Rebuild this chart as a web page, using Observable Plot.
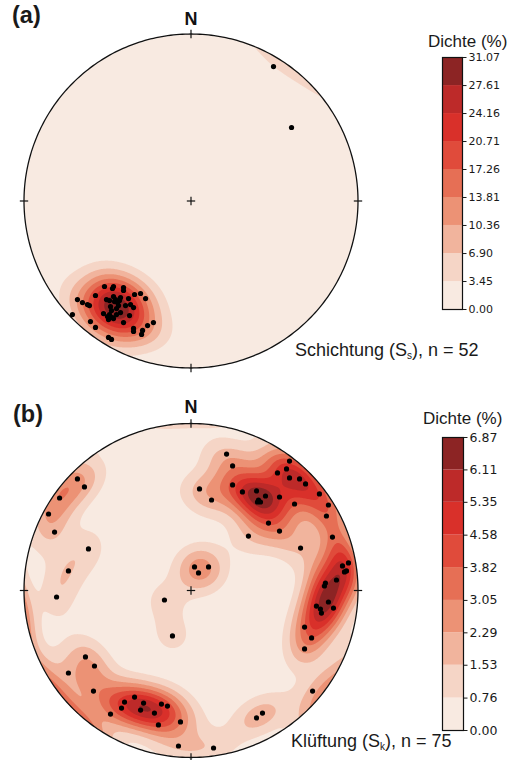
<!DOCTYPE html>
<html><head><meta charset="utf-8">
<script src="https://cdn.jsdelivr.net/npm/d3@7"></script>
<script src="https://cdn.jsdelivr.net/npm/@observablehq/plot@0.6"></script>
<style>
body{margin:0;background:#fff;}
#page{position:relative;width:525px;height:760px;overflow:hidden;font-family:"Liberation Sans",Arial,sans-serif;color:#1a1a1a;}
.abs{position:absolute;white-space:nowrap;line-height:1;}
.abs svg{display:block;}
sub{font-size:10px;vertical-align:-3px;line-height:0;}
</style></head><body><div id="page"></div>
<script>
// Colour bands (bottom -> top) of the "Dichte (%)" colour bar
const bandColors = ["#f8eae1", "#f5d5c6", "#f1b49d", "#ec9275", "#e66f55", "#e04b3b", "#d9302a", "#bd2a29", "#8c2424"];

// (a) Schichtung – tick values and labels of the colour bar
const ticksA = [0, 3.45, 6.90, 10.36, 13.81, 17.26, 20.71, 24.16, 27.61, 31.07];
const labelsA = ["0.00", "3.45", "6.90", "10.36", "13.81", "17.26", "20.71", "24.16", "27.61", "31.07"];
// (b) Klüftung
const ticksB = [0, 0.76, 1.53, 2.29, 3.05, 3.82, 4.58, 5.35, 6.11, 6.87];
const labelsB = ["0.00", "0.76", "1.53", "2.29", "3.05", "3.82", "4.58", "5.35", "6.11", "6.87"];

// Poles in net coordinates (equal-area, x = east, y = north, unit circle), n = 52
const poleXA = [0.494, 0.602, -0.710, -0.680, -0.650, -0.620, -0.608, -0.572, -0.518, -0.470, -0.464, -0.404, -0.404,
  -0.506, -0.488, -0.452, -0.440, -0.422, -0.374, -0.338, -0.302, -0.272, -0.362, -0.344, -0.392, -0.446, -0.524,
  -0.488, -0.470, -0.494, -0.464, -0.602, -0.572, -0.404, -0.368, -0.344, -0.344, -0.290, -0.296, -0.260, -0.225,
  -0.494, -0.476, -0.422, -0.458, -0.434, -0.476, -0.446, -0.482, -0.428, -0.464, -0.500];
const poleYA = [0.805, 0.440, -0.680, -0.590, -0.608, -0.620, -0.626, -0.566, -0.512, -0.524, -0.512, -0.518, -0.536,
  -0.590, -0.596, -0.590, -0.608, -0.578, -0.584, -0.560, -0.554, -0.584, -0.620, -0.638, -0.626, -0.644, -0.674,
  -0.680, -0.698, -0.710, -0.704, -0.722, -0.757, -0.728, -0.686, -0.763, -0.781, -0.775, -0.799, -0.746, -0.728,
  -0.817, -0.829, -0.668, -0.602, -0.626, -0.656, -0.680, -0.632, -0.596, -0.572, -0.692];

// n = 75
const poleXB = [0.213, 0.249, 0.249, 0.051, 0.123, 0.308, 0.392, 0.446, 0.404, 0.416, 0.398, 0.530, 0.464, 0.530, 0.344,
  0.590, 0.572, 0.518, 0.590, 0.650, 0.686, 0.620, 0.769, 0.823, 0.811, 0.847, 0.656,
  0.943, 0.907, 0.919, 0.931, 0.871, 0.805, 0.799, 0.823, 0.751, 0.775, 0.781, 0.853, 0.680, 0.722, 0.680, 0.728,
  0.428, 0.392,
  -0.632, -0.578, -0.734, -0.584, -0.338, -0.398, -0.284, -0.177, -0.141, -0.416, -0.302, -0.219, -0.482, -0.063, -0.195, -0.075, 0.135,
  -0.680, -0.638, -0.787, -0.853, -0.817, -0.614, -0.734, -0.805, -0.159,
  0.021, 0.045, 0.105, -0.111];
const poleYB = [0.817, 0.746, 0.632, 0.608, 0.542, 0.590, 0.596, 0.566, 0.542, 0.530, 0.530, 0.560, 0.404, 0.356, 0.326,
  0.775, 0.728, 0.704, 0.674, 0.668, 0.638, 0.518, 0.578, 0.512, 0.446, 0.320, 0.254,
  0.165, 0.147, 0.111, 0.117, 0.063, 0.045, 0.027, -0.069, -0.093, -0.111, -0.135, -0.105, -0.219, -0.284, -0.350, -0.602,
  -0.734, -0.763,
  -0.398, -0.452, -0.494, -0.602, -0.638, -0.668, -0.674, -0.680, -0.692, -0.704, -0.716, -0.734, -0.740, -0.787, -0.805, -0.931, -0.943,
  0.668, 0.620, 0.554, 0.458, 0.350, 0.249, 0.117, -0.039, -0.057,
  0.141, 0.105, 0.141, -0.272];

// ---- helpers ----
function toVec(x, y) {
  const r = Math.hypot(x, y);
  const theta = 2 * Math.asin(Math.min(1, r / Math.SQRT2));
  const phi = Math.atan2(y, x);
  const s = Math.sin(theta);
  return [s * Math.cos(phi), s * Math.sin(phi), Math.cos(theta)];
}
// exponential Kamb density on the sphere (axial data), scaled to the colour-bar maximum
function makeDensity(xs, ys, sigma, vmax) {
  const n = xs.length;
  const f = 2 * (1 + n / (sigma * sigma));
  const pts = xs.map((x, i) => toVec(x, ys[i]));
  const raw = (x, y) => {
    const v = toVec(x, y);
    let s = 0;
    for (const p of pts) {
      const c = Math.abs(v[0] * p[0] + v[1] * p[1] + v[2] * p[2]);
      s += Math.exp(f * (c - 1));
    }
    return s;
  };
  let m = 0;
  for (let i = 0; i <= 200; i++) for (let j = 0; j <= 200; j++) {
    const x = -1 + i / 100, y = -1 + j / 100;
    if (x * x + y * y <= 1) m = Math.max(m, raw(x, y));
  }
  for (let i = 0; i < n; i++) m = Math.max(m, raw(xs[i], ys[i]));
  return (x, y) => (x * x + y * y > 1) ? -1 : raw(x, y) / m * vmax;
}

const circle = d3.range(0, 361, 1).map(a => ({x: Math.cos(a * Math.PI / 180), y: Math.sin(a * Math.PI / 180)}));
const compass = [{x: 0, y: 1}, {x: 1, y: 0}, {x: 0, y: -1}, {x: -1, y: 0}];
const cross = [{x1: -0.025, y1: 0, x2: 0.025, y2: 0}, {x1: 0, y1: -0.025, x2: 0, y2: 0.025}];

function stereonet({xs, ys, ticks, sigma, marginTop, marginBottom, nDy}) {
  const dens = makeDensity(xs, ys, sigma, ticks[ticks.length - 1]);
  const poles = xs.map((x, i) => ({x, y: ys[i]}));
  return Plot.plot({
    width: 380, height: 380,
    marginLeft: 23.5, marginRight: 22.5, marginTop, marginBottom,
    x: {domain: [-1, 1], axis: null},
    y: {domain: [-1, 1], axis: null},
    color: {type: "threshold", domain: ticks.slice(1, -1), range: bandColors},
    style: {background: "transparent", overflow: "visible"},
    marks: [
      Plot.contour({x1: -1, y1: -1, x2: 1, y2: 1, value: dens, fill: "value", thresholds: ticks.slice(0, -1), pixelSize: 1}),
      Plot.line(circle, {x: "x", y: "y", stroke: "#111", strokeWidth: 1.3}),
      Plot.link(compass, {x1: d => d.x * 0.975, y1: d => d.y * 0.975, x2: d => d.x * 1.025, y2: d => d.y * 1.025, stroke: "#111", strokeWidth: 1.2}),
      Plot.link(cross, {x1: "x1", y1: "y1", x2: "x2", y2: "y2", stroke: "#111", strokeWidth: 1.2}),
      Plot.dot(poles, {x: "x", y: "y", r: 2.6, fill: "#000"}),
      Plot.text(["N"], {x: 0, y: 1, dy: nDy, text: d => d, fontWeight: "bold", fontSize: 18, fontFamily: "Liberation Sans, Arial, sans-serif", fill: "#111"})
    ]
  });
}

function colorbar({ticks, labels, barW, barH, fontSize}) {
  const bands = ticks.slice(0, -1).map((lo, i) => ({lo, hi: ticks[i + 1]}));
  return Plot.plot({
    width: 80, height: barH + 16,
    marginLeft: 1, marginRight: 79 - barW, marginTop: 8, marginBottom: 8,
    x: {domain: [0, 1], axis: null},
    y: {domain: [0, ticks[ticks.length - 1]], axis: null},
    color: {type: "threshold", domain: ticks.slice(1, -1), range: bandColors},
    style: {background: "transparent", fontFamily: "DejaVu Sans, sans-serif", fontSize: fontSize + "px", overflow: "visible", color: "#1a1a1a"},
    marks: [
      Plot.rect(bands, {x1: 0, x2: 1, y1: "lo", y2: "hi", fill: "lo"}),
      Plot.frame({stroke: "#111", strokeWidth: 1.2}),
      Plot.axisY({anchor: "right", ticks, tickFormat: d => labels[ticks.indexOf(d)], tickSize: 3.5, tickPadding: 2.5, label: null})
    ]
  });
}

const page = document.getElementById("page");
function place(node, left, top) {
  const d = document.createElement("div");
  d.className = "abs";
  d.style.left = left + "px";
  d.style.top = top + "px";
  if (typeof node === "string") d.innerHTML = node; else d.appendChild(node);
  page.appendChild(d);
  return d;
}

// Panel (a)
place(stereonet({xs: poleXA, ys: poleYA, ticks: ticksA, sigma: 1.6, marginTop: 33.5, marginBottom: 12.5, nDy: -15}), 0, 0);
place(colorbar({ticks: ticksA, labels: labelsA, barW: 20, barH: 252, fontSize: 11}), 441, 49);
place('<span style="font-weight:bold;font-size:23.5px">(a)</span>', 12, 4);
place('<span style="font-size:17px">Dichte (%)</span>', 428, 32.5);
place('<span style="font-size:18px">Schichtung (S<sub>s</sub>), n = 52</span>', 295, 341);

// Panel (b)
place(stereonet({xs: poleXB, ys: poleYB, ticks: ticksB, sigma: 1.75, marginTop: 43, marginBottom: 3, nDy: -16}), 0, 380);
place(colorbar({ticks: ticksB, labels: labelsB, barW: 21, barH: 293, fontSize: 12.5}), 441, 429);
place('<span style="font-weight:bold;font-size:23.5px">(b)</span>', 13, 403);
place('<span style="font-size:17px">Dichte (%)</span>', 423, 410);
place('<span style="font-size:18px">Klüftung (S<sub>k</sub>), n = 75</span>', 291, 732);
</script>
</body></html>
